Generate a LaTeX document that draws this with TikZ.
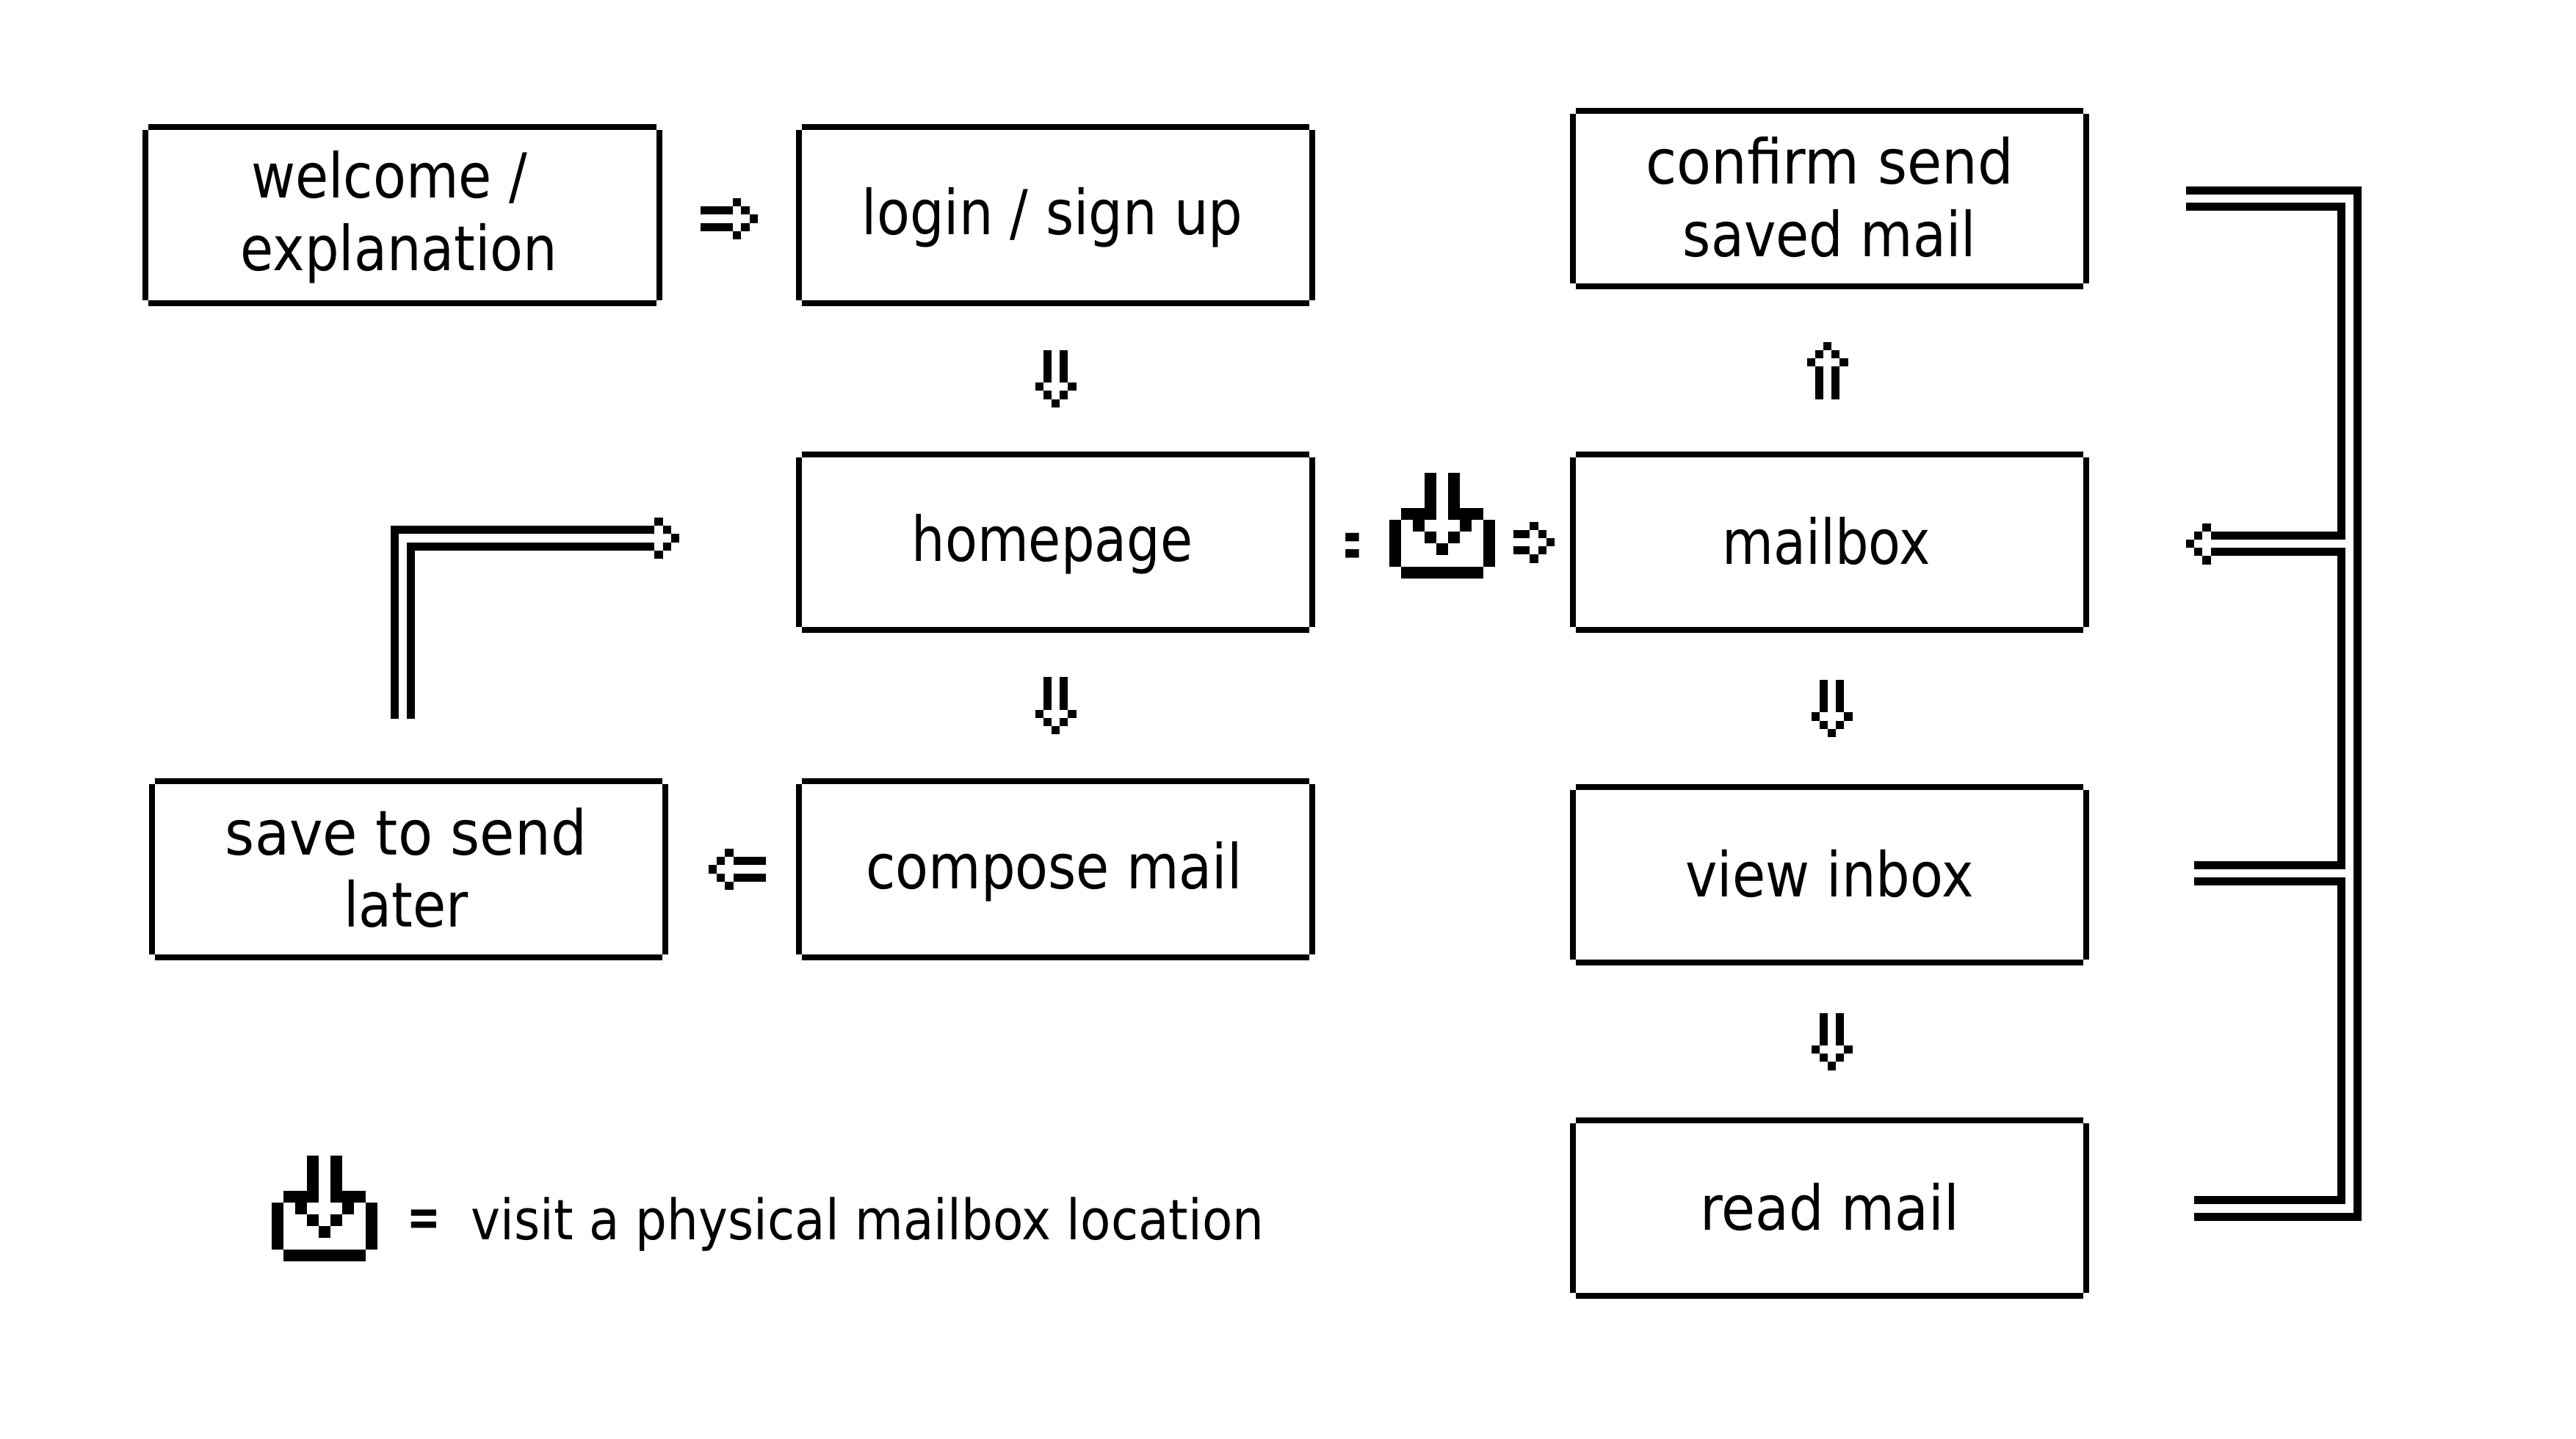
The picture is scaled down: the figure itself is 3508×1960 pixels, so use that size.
\documentclass[tikz,border=0pt]{standalone}
\usepackage{fontspec}
\newfontfamily\pixfont[FakeStretch=0.87]{DejaVu Sans}
\newfontfamily\legendfont[FakeStretch=0.89]{DejaVu Sans}
\newcommand{\mainsize}{\fontsize{24}{28.1}\selectfont}
\newcommand{\legendsize}{\fontsize{21.6}{26}\selectfont}
\newcommand{\pxs}{\rule[-0.11cm]{0pt}{0.81cm}}
\newcommand{\pxr}[1]{\rule{#1cm}{0pt}}
\newcommand{\headcells}{%
  \fill (-11.2,-5.6) rectangle (0,5.6);
  \fill (-22.4,-16.8) rectangle (-11.2,-5.6);
  \fill (-22.4,5.6) rectangle (-11.2,16.8);
  \fill (-33.6,-28) rectangle (-22.4,-16.8);
  \fill (-33.6,16.8) rectangle (-22.4,28);
}
\tikzset{
  pixbox/.style={draw=black,line width=0.08cm,fill=white,inner sep=0pt,
    minimum width=6.99cm,minimum height=2.39cm,align=center,
    font=\pixfont\mainsize},
  rail/.style={line width=0.11cm,line cap=butt,line join=miter},
  iconspot/.style={inner sep=0pt,outer sep=0pt,minimum size=1.44cm},
  plain/.style={inner sep=0pt,outer sep=0pt},
  pics/phead/.style={code={\headcells}},
  pics/parrow/.style={code={%
    \begin{scope}[shift={(#1/2,0)}]\headcells\end{scope}
    \fill (-#1/2,-16.8) rectangle (#1/2-33.6,-5.6);
    \fill (-#1/2,5.6) rectangle (#1/2-33.6,16.8);
  }},
  pics/mailicon/.style={code={%
    \begin{scope}[shift={(-72,-72)},x=0.16cm,y=-0.16cm]
      \fill (3,0) rectangle (4,3);
      \fill (5,0) rectangle (6,3);
      \fill (1,3) rectangle (4,4);
      \fill (5,3) rectangle (8,4);
      \fill (0,4) rectangle (1,8);
      \fill (8,4) rectangle (9,8);
      \fill (2,4) rectangle (3,5);
      \fill (6,4) rectangle (7,5);
      \fill (3,5) rectangle (4,6);
      \fill (5,5) rectangle (6,6);
      \fill (4,6) rectangle (5,7);
      \fill (1,8) rectangle (8,9);
    \end{scope}
  }},
}
\begin{document}
\begin{tikzpicture}[x=0.01cm,y=-0.01cm]
\useasboundingbox (0,0) rectangle (3508,1960);
\fill[white] (0,0) rectangle (3508,1960);
% boxes
\node[pixbox] (welcome) at (548,293) {\pxs welcome /\pxr{0.36}\\\pxs explanation\pxr{0.09}};
\node[pixbox] (login) at (1437.5,293) {\pxs login / sign up\pxr{0.09}};
\node[pixbox] (homepage) at (1437.5,738.5) {\pxs\scalebox{0.977}[1]{homepage}\pxr{0.09}};
\node[pixbox] (compose) at (1437.5,1184) {\pxs compose mail\pxr{0.04}};
\node[pixbox] (save) at (556.5,1184) {\pxs\scalebox{1.05}[1]{save to send}\pxr{0.07}\\\pxs later\pxr{0.07}};
\node[pixbox] (confirm) at (2491.5,270.5) {\pxs\scalebox{1.047}[1]{confirm send}\\\pxs saved mail};
\node[pixbox] (mailbox) at (2491.5,738.5) {\pxs\scalebox{0.977}[1]{mailbox}\pxr{0.09}};
\node[pixbox] (view) at (2491.5,1191.5) {\pxs view inbox};
\node[pixbox] (read) at (2491.5,1645.5) {\pxs\scalebox{1.02}[1]{read mail}};
\foreach \n in {welcome,login,homepage,compose,save,confirm,mailbox,view,read}{
  \fill[white] (\n.north west) rectangle +(8,8);
  \fill[white] (\n.north east) rectangle +(-8,8);
  \fill[white] (\n.south west) rectangle +(8,-8);
  \fill[white] (\n.south east) rectangle +(-8,-8);
}
% short block arrows
\path ([yshift=-0.05cm]welcome.east) -- pic{parrow=78} ([yshift=-0.05cm]login.west);
\path (login) -- pic[rotate=-90]{parrow=78} (homepage);
\path (homepage) -- pic[rotate=-90]{parrow=78} (compose);
\path (compose) -- pic[rotate=180,pos=0.46]{parrow=78} (save);
\path ([xshift=-0.03cm]mailbox.north) -- pic[rotate=90]{parrow=78} ([xshift=-0.03cm]confirm.south);
\path ([xshift=0.03cm]mailbox.south) -- pic[rotate=-90]{parrow=78} ([xshift=0.03cm]view.north);
\path ([xshift=0.03cm]view.south) -- pic[rotate=-90]{parrow=78} ([xshift=0.03cm]read.north);
% mailbox icon between homepage and mailbox
\node[plain] (eqa) at (1841.5,750) {\pixfont\bfseries\fontsize{28.45}{30}\selectfont\scalebox{0.34}[1]{=}};
\node[iconspot] (icona) at (1964,716) {};
\pic at (icona) {mailicon};
\path (icona.east |- mailbox.west) -- pic[pos=0.52]{parrow=56} (mailbox.west);
% loop from save to homepage
\coordinate (sa) at (537,979);
\coordinate (sb) at (559,979);
\coordinate (ha) at (891,721.5);
\coordinate (hb) at (891,744);
\coordinate (hc) at (925,733);
\draw[rail] (sa) |- (ha);
\draw[rail] (sb) |- (hb);
\pic at (hc) {phead};
% right-hand bus to mailbox
\coordinate (ca) at (2977,259.5);
\coordinate (cb) at (2977,281.5);
\coordinate (ma) at (3011,729.5);
\coordinate (mb) at (3011,751.5);
\coordinate (mc) at (2977,740.5);
\coordinate (va) at (2988,1178);
\coordinate (vb) at (2988,1200.5);
\coordinate (ra) at (2988,1634.5);
\coordinate (rb) at (2988,1657);
\draw[rail] (ca) -- (3210.5,259.5) -- (3210.5,1657) -- (rb);
\draw[rail] (cb) -- (3188,281.5) -- (3188,729.5) -- (ma);
\draw[rail] (mb) -- (3188,751.5) -- (3188,1178) -- (va);
\draw[rail] (vb) -- (3188,1200.5) -- (3188,1634.5) -- (ra);
\pic[rotate=180] at (mc) {phead};
% legend
\node[iconspot] (iconb) at (442,1646) {};
\pic at (iconb) {mailicon};
\node[plain] (eqb) at (577,1665.5) {\pixfont\bfseries\fontsize{21}{23}\selectfont\scalebox{0.85}[1]{=}};
\node[plain,anchor=base] (legend) at (1181.5,1688) {\legendfont\legendsize visit a physical mailbox location};
\end{tikzpicture}
\end{document}
